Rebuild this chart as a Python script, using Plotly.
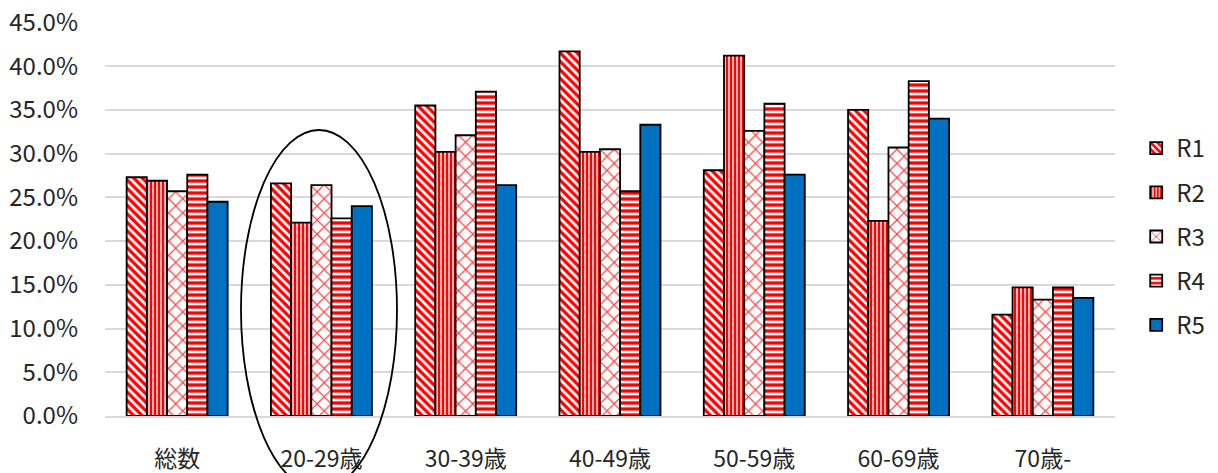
import plotly.graph_objects as go

categories = ["総数", "20-29歳", "30-39歳", "40-49歳", "50-59歳", "60-69歳", "70歳-"]
series_names = ["R1", "R2", "R3", "R4", "R5"]
r1 = [27.3, 26.6, 35.5, 41.7, 28.1, 35.0, 11.6]
r2 = [26.9, 22.1, 30.2, 30.2, 41.2, 22.3, 14.7]
r3 = [25.7, 26.4, 32.1, 30.5, 32.6, 30.7, 13.3]
r4 = [27.6, 22.6, 37.1, 25.7, 35.7, 38.3, 14.7]
r5 = [24.5, 24.0, 26.4, 33.3, 27.6, 34.0, 13.5]
values = [r1, r2, r3, r4, r5]
tick_vals = [0, 5, 10, 15, 20, 25, 30, 35, 40, 45]

styles = [
    dict(shape="\\", fgcolor="#FF0000", bgcolor="white", size=6, solidity=0.55),
    dict(shape="|", fgcolor="#FF0000", bgcolor="#FFE0E0", size=4, solidity=0.6),
    dict(shape="x", fgcolor="#FF4040", bgcolor="white", size=10, solidity=0.22),
    dict(shape="-", fgcolor="#FF0000", bgcolor="white", size=6, solidity=0.55),
    None,
]

FONT = "Noto Sans CJK JP, Liberation Sans"

# page body has an 8px margin: figure origin sits at window (8, 8)
OFF = 8
W, H = 1210, 465
PW = 1115 - 105
PH = 416 - 22
L = 105 - OFF
T = 22 - OFF
R = W - L - PW
B = H - T - PH

fig = go.Figure()
for name, vals, st in zip(series_names, values, styles):
    marker = dict(line=dict(color="black", width=1.8))
    if st is None:
        marker["color"] = "#0070C0"
    else:
        marker["color"] = "white"
        marker["pattern"] = dict(fgopacity=1, **st)
    fig.add_trace(go.Bar(x=categories, y=[v / 100 for v in vals], name=name,
                         marker=marker, legendgroup=name))

fig.add_shape(type="circle", xref="paper", yref="paper",
              x0=(241 - 105) / PW, x1=(397 - 105) / PW,
              y0=(416 - 490) / PH, y1=(416 - 130) / PH,
              line=dict(color="black", width=1.8), fillcolor="rgba(0,0,0,0)")

fig.update_layout(
    width=W, height=H,
    margin=dict(l=L, r=R, t=T, b=B, autoexpand=False),
    paper_bgcolor="white", plot_bgcolor="white",
    barmode="group", bargap=0.3, bargroupgap=0.0,
    font=dict(family=FONT, size=24, color="#262626"),
    legend=dict(x=1.021, y=(416 - 126) / PH, xanchor="left", yanchor="top",
                tracegroupgap=10, itemwidth=30, font=dict(size=24)),
    yaxis=dict(range=[0, 0.4505], tickvals=[t / 100 for t in tick_vals],
               tickformat=".1%", showgrid=True, gridcolor="#D9D9D9", gridwidth=1.5,
               zeroline=False, showline=False, ticks="", ticklabelstandoff=26,
               ticklabeloverflow="allow", automargin=False),
    xaxis=dict(showline=True, linecolor="#D9D9D9", linewidth=1.5, ticks="",
               ticklabelstandoff=22, automargin=False, ticklabeloverflow="allow",
               tickfont=dict(family=FONT, size=23)),
)
fig.write_html("out.html")
